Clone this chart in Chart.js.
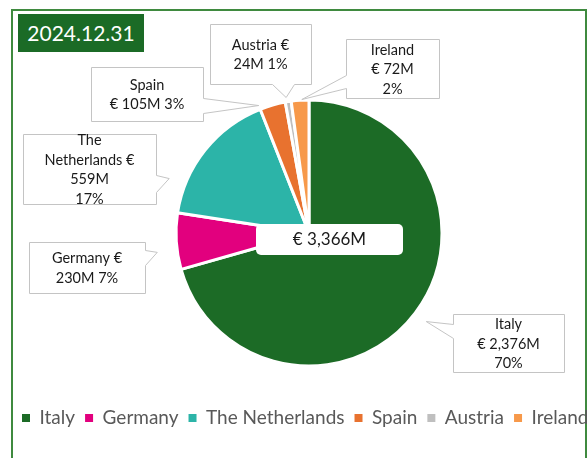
<!DOCTYPE html>
<html>
<head>
<meta charset="utf-8">
<script src="https://cdn.jsdelivr.net/npm/chart.js@4.4.1/dist/chart.umd.min.js"></script>
<style>
   html, body { margin: 0; padding: 0; background: #ffffff; overflow: hidden; }
   #wrap { position: relative; width: 587px; height: 458px; overflow: hidden; }
   #frame { position: absolute; left: 11px; top: 9px; width: 576px; height: 480px;
            border: 2px solid #3f8a3f; box-sizing: border-box; }
   #title { position: absolute; left: 18px; top: 14px; width: 126px; height: 38px;
            background: #1b6b26; color: #ffffff; font: 21px Lato, sans-serif;
            line-height: 38px; text-align: center; }
   #pie { position: absolute; left: 0; top: 0; }
</style>
</head>
<body>
<div id="wrap">
   <div id="frame"></div>
   <canvas id="pie" width="618" height="458"></canvas>
   <div id="title"></div>
</div>
<script>
// data (values in € million, shares as printed)
var TITLE = '2024.12.31';
var COUNTRIES = ['Italy', 'Germany', 'The Netherlands', 'Spain', 'Austria', 'Ireland'];
var AMOUNTS   = [2376, 230, 559, 105, 24, 72];
var SHARES    = [70, 7, 17, 3, 1, 2];

var COLORS = ['#1c6b26', '#e2007e', '#2cb4a8', '#e8722f', '#bfbfbf', '#f7994a'];

// callout boxes: box [x, y, w, h], side of the pointer, pointer base,
// where along the slice it points (0..1) and how far out (x outer radius),
// and how many words go on each line
var callouts = [
   { box: [453, 314, 111, 58], side: 'left',   base: [324, 338], at: 0.50, reach: 1.105, lines: [1, 2, 1] },
   { box: [29, 242, 116, 51],  side: 'right',  base: [250, 265], at: 0.35, reach: 1.15,  lines: [2, 2] },
   { box: [23, 134, 133, 70],  side: 'right',  base: [175, 192], at: 0.21, reach: 1.128, lines: [1, 2, 1, 1] },
   { box: [91, 67, 112, 54],   side: 'right',  base: [98, 113],  at: 0.00, reach: 1.03,  lines: [1, 3] },
   { box: [210, 24, 101, 60],  side: 'bottom', base: [272, 294], at: 0.27, reach: 1.033, lines: [2, 2] },
   { box: [346, 39, 93, 59],   side: 'left',   base: [75, 88],   at: 0.60, reach: 1.005, lines: [1, 2, 1] }
];

var LABEL_FONT = '14.5px Lato, sans-serif';
var LINE_HEIGHT = 19.5;

document.getElementById('title').textContent = TITLE;

var euro = function euro(value) {
   return '€ ' + value.toLocaleString('en-US') + 'M';
};

var labelLines = function labelLines(index, counts) {
   var words = (COUNTRIES[index] + ' ' + euro(AMOUNTS[index]) + ' ' + SHARES[index] + '%').split(' ');
   var result = [];
   var pos = 0;
   counts.forEach(n => {
      result.push(words.slice(pos, pos + n).join(' '));
      pos += n;
   });
   return result;
};

var calloutPath = function calloutPath(ctx, c, tip) {
   var x = c.box[0] + 0.5, y = c.box[1] + 0.5, w = c.box[2], h = c.box[3];
   var b0 = c.base[0] + 0.5, b1 = c.base[1] + 0.5;
   ctx.beginPath();
   ctx.moveTo(x, y);
   if (c.side === 'top') { ctx.lineTo(b0, y); ctx.lineTo(tip.x, tip.y); ctx.lineTo(b1, y); }
   ctx.lineTo(x + w, y);
   if (c.side === 'right') { ctx.lineTo(x + w, b0); ctx.lineTo(tip.x, tip.y); ctx.lineTo(x + w, b1); }
   ctx.lineTo(x + w, y + h);
   if (c.side === 'bottom') { ctx.lineTo(b1, y + h); ctx.lineTo(tip.x, tip.y); ctx.lineTo(b0, y + h); }
   ctx.lineTo(x, y + h);
   if (c.side === 'left') { ctx.lineTo(x, b1); ctx.lineTo(tip.x, tip.y); ctx.lineTo(x, b0); }
   ctx.closePath();
};

var calloutPlugin = {
   id: 'callouts',
   afterDatasetsDraw: function(chart) {
      var ctx = chart.ctx;
      var arcs = chart.getDatasetMeta(0).data;
      var total = AMOUNTS.reduce((a, b) => a + b, 0);

      ctx.save();
      // total in the middle
      var cx = arcs[0].x, cy = arcs[0].y;
      ctx.fillStyle = '#ffffff';
      ctx.beginPath();
      ctx.roundRect(cx - 53, cy - 9, 147, 31, 5);
      ctx.fill();
      ctx.fillStyle = '#1a1a1a';
      ctx.font = '17px Lato, sans-serif';
      ctx.textAlign = 'center';
      ctx.textBaseline = 'middle';
      ctx.fillText(euro(total), cx + 20.5, cy + 7);

      // callouts
      arcs.forEach((arc, i) => {
         var c = callouts[i];
         var angle = arc.startAngle + c.at * (arc.endAngle - arc.startAngle);
         var tip = {
            x: arc.x + Math.cos(angle) * arc.outerRadius * c.reach,
            y: arc.y + Math.sin(angle) * arc.outerRadius * c.reach
         };
         calloutPath(ctx, c, tip);
         ctx.fillStyle = '#ffffff';
         ctx.fill();
         ctx.strokeStyle = '#c4c4c4';
         ctx.lineWidth = 1;
         ctx.stroke();

         var lines = labelLines(i, c.lines);
         var midX = c.box[0] + c.box[2] / 2;
         var midY = c.box[1] + c.box[3] / 2 + 1;
         var top = midY - (lines.length - 1) * LINE_HEIGHT / 2;
         ctx.fillStyle = '#1a1a1a';
         ctx.font = LABEL_FONT;
         lines.forEach((line, k) => ctx.fillText(line, midX, top + k * LINE_HEIGHT));
      });
      ctx.restore();
   }
};

var chart = new Chart(document.getElementById('pie'), {
   type: 'pie',
   data: {
      labels: COUNTRIES,
      datasets: [{
         data: AMOUNTS,
         backgroundColor: COLORS,
         borderColor: '#ffffff',
         borderWidth: 3
      }]
   },
   options: {
      responsive: false,
      animation: false,
      radius: 133,
      layout: {
         padding: { top: 67.5, bottom: 20.5, left: 12, right: 12 }
      },
      plugins: {
         tooltip: { enabled: false },
         legend: {
            position: 'bottom',
            align: 'start',
            labels: {
               boxWidth: 8,
               boxHeight: 8,
               padding: 10,
               color: '#595959',
               font: { family: 'Lato', size: 19 },
               generateLabels: function(chart) {
                  var items = Chart.overrides.pie.plugins.legend.labels.generateLabels(chart);
                  items.forEach(item => item.lineWidth = 0);
                  return items;
               }
            }
         }
      }
   },
   plugins: [calloutPlugin]
});
</script>
</body>
</html>
